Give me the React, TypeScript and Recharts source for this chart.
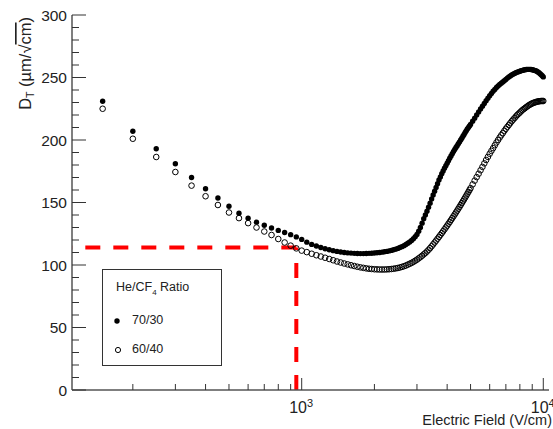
import React from "react"
import { ScatterChart, Scatter, XAxis, YAxis, ReferenceLine, Legend } from "recharts"

// electric field (V/cm)
const E_FIELD = [
  150, 200, 250, 300, 350, 400, 450, 500, 550, 600, 650, 700, 750, 800, 850, 900, 950, 1000,
  1050, 1100, 1150, 1200, 1250, 1300, 1350, 1400, 1450, 1500, 1550, 1600, 1650, 1700, 1750, 1800, 1850, 1900, 1950, 2000,
  2050, 2100, 2150, 2200, 2250, 2300, 2350, 2400, 2450, 2500, 2550, 2600, 2650, 2700, 2750, 2800, 2850, 2900, 2950, 3000,
  3050, 3100, 3150, 3200, 3250, 3300, 3350, 3400, 3450, 3500, 3550, 3600, 3650, 3700, 3750, 3800, 3850, 3900, 3950, 4000,
  4050, 4100, 4150, 4200, 4250, 4300, 4350, 4400, 4450, 4500, 4550, 4600, 4650, 4700, 4750, 4800, 4850, 4900, 4950, 5000,
  5100, 5200, 5300, 5400, 5500, 5600, 5700, 5800, 5900, 6000,
  6100, 6200, 6300, 6400, 6500, 6600, 6700, 6800, 6900, 7000,
  7100, 7200, 7300, 7400, 7500, 7600, 7700, 7800, 7900, 8000,
  8100, 8200, 8300, 8400, 8500, 8600, 8700, 8800, 8900, 9000,
  9100, 9200, 9300, 9400, 9500, 9600, 9700, 9800, 9900, 10000,
]

// transverse diffusion, He/CF4 70/30 (filled)
const DT_70_30 = [
  231, 207, 193, 181, 170, 161, 153.6, 147, 141.5, 137.5, 134.3, 131.8, 129.6, 127.7, 126, 124.3, 122.5, 120.5,
  118.3, 116.5, 115.2, 114, 113, 112.2, 111.5, 110.9, 110.4, 110, 109.7, 109.5, 109.3, 109.2, 109.1, 109.1, 109.2, 109.3, 109.4, 109.6,
  109.8, 110, 110.3, 110.6, 110.9, 111.3, 111.7, 112.2, 112.7, 113.3, 114, 114.7, 115.5, 116.4, 117.4, 118.5, 119.7, 121, 122.6, 124.5,
  127, 130, 133.5, 137, 140, 143, 146.2, 149.5, 152.8, 156, 159, 162, 165, 168, 170.5, 173, 175.3, 177.5, 179.5, 181.5,
  183.5, 185.5, 187.3, 189, 190.8, 192.5, 194, 195.5, 197, 198.5, 200, 201.5, 203, 204.5, 206, 207.5, 208.8, 210, 211.3, 212.5,
  215, 217.5, 220, 222.5, 224.8, 227, 229.3, 231.5, 233.5, 235.5,
  237.3, 239, 240.5, 242, 243.3, 244.5, 245.5, 246.5, 247.5, 248.5,
  249.5, 250.5, 251.3, 252, 252.7, 253.3, 253.8, 254.3, 254.7, 255,
  255.4, 255.7, 256, 256.2, 256.4, 256.5, 256.5, 256.5, 256.4, 256.2,
  256, 255.7, 255.4, 255, 254.4, 253.8, 253.1, 252.3, 251.4, 250.5,
]

// transverse diffusion, He/CF4 60/40 (open)
const DT_60_40 = [
  225, 201, 186.4, 174.4, 163.5, 155, 148, 142, 137.5, 133.5, 130, 126.8, 124, 120.8, 118, 115.5, 113.3, 111.5,
  110.3, 109, 107.8, 106.8, 105.8, 104.8, 103.8, 102.8, 102, 101.2, 100.5, 99.8, 99.2, 98.6, 98.1, 97.7, 97.3, 97, 96.8, 96.6,
  96.5, 96.4, 96.4, 96.4, 96.5, 96.6, 96.8, 97, 97.3, 97.6, 98, 98.5, 99, 99.6, 100.3, 101, 101.7, 102.5, 103.4, 104.3,
  105.3, 106.3, 107.4, 108.5, 109.6, 110.8, 112.1, 113.5, 115, 116.5, 118, 119.5, 121, 122.5, 124, 125.5, 127, 128.5, 130, 131.5,
  133, 134.5, 136, 137.5, 139, 140.5, 142, 143.5, 145, 146.5, 148, 149.5, 151, 152.5, 154, 155.5, 157, 158.5, 160, 161.5,
  164.5, 167.5, 170.3, 173, 175.8, 178.5, 181.3, 184, 186.5, 189,
  191.3, 193.5, 195.8, 198, 200, 202, 203.8, 205.5, 207.3, 209,
  210.5, 212, 213.5, 215, 216.3, 217.5, 218.8, 220, 221, 222,
  223, 224, 224.8, 225.5, 226.3, 227, 227.7, 228.3, 228.8, 229.3,
  229.7, 230, 230.3, 230.6, 230.8, 231, 231.1, 231.2, 231.2, 231.2,
]

const X_TICKS = [200, 300, 400, 500, 600, 700, 800, 900, 1000, 2000, 3000, 4000, 5000, 6000, 7000, 8000, 9000, 10000]
const X_LABELS: Record<number, string> = { 1000: "3", 10000: "4" }
const Y_TICKS = [0, 10, 20, 30, 40, 50, 60, 70, 80, 90, 100, 110, 120, 130, 140, 150, 160, 170, 180, 190, 200, 210, 220, 230, 240, 250, 260, 270, 280, 290, 300]

const CUT_FIELD = 950
const CUT_DT = 114

const X_DOMAIN = [112, 10560]
const FONT = "'Liberation Sans', Arial, Helvetica, sans-serif"

const data7030 = E_FIELD.map((x, i) => ({ x, y: DT_70_30[i] }))
const data6040 = E_FIELD.map((x, i) => ({ x, y: DT_60_40[i] }))

const XTick = (props: any) => {
  const { x, y, payload } = props
  const exp = X_LABELS[payload.value]
  const len = exp ? 12 : 6
  return (
    <g>
      <line x1={x} x2={x} y1={y} y2={y - len} stroke="#333" strokeWidth={1} />
      {exp && (
        <text x={x - 12.5} y={y + 23} fontSize={16} fill="#222" fontFamily={FONT}>
          10
          <tspan dy={-6} fontSize={11}>{exp}</tspan>
        </text>
      )}
    </g>
  )
}

const YTick = (props: any) => {
  const { x, y, payload } = props
  const major = payload.value % 50 === 0
  return (
    <g>
      <line x1={x} x2={x + (major ? 14 : 7)} y1={y} y2={y} stroke="#333" strokeWidth={1} />
      {major && (
        <text x={x - 5} y={y + 5.5} fontSize={15.5} textAnchor="end" fill="#222" fontFamily={FONT}>
          {payload.value}
        </text>
      )}
    </g>
  )
}

const filledDot = (p: any) => <circle cx={p.cx} cy={p.cy} r={2.7} fill="#000" />
const openDot = (p: any) => <circle cx={p.cx} cy={p.cy} r={2.8} fill="none" stroke="#000" strokeWidth={1} />

const LegendBox = () => (
  <div
    style={{
      width: 120,
      height: 97,
      boxSizing: "border-box",
      border: "1px solid #333",
      background: "#fff",
      fontFamily: FONT,
      fontSize: 12.5,
      color: "#222",
      position: "relative",
    }}
  >
    <div style={{ position: "absolute", left: 13, top: 10 }}>
      He/CF<span style={{ fontSize: 8, position: "relative", top: 4 }}>4</span> Ratio
    </div>
    <svg style={{ position: "absolute", left: 0, top: 0 }} width={120} height={97}>
      <circle cx={14} cy={51} r={2.7} fill="#000" />
      <circle cx={15} cy={80} r={2.6} fill="none" stroke="#000" strokeWidth={1} />
    </svg>
    <div style={{ position: "absolute", left: 29, top: 43 }}>70/30</div>
    <div style={{ position: "absolute", left: 29, top: 72 }}>60/40</div>
  </div>
)

export default function App() {
  return (
    <div style={{ position: "absolute", left: 0, top: 0, width: 553, height: 429, background: "#fff" }}>
      <ScatterChart width={553} height={429} margin={{ top: 15, right: 4, bottom: 0, left: 0 }}>
        <XAxis
          xAxisId="b"
          dataKey="x"
          type="number"
          scale="log"
          domain={X_DOMAIN}
          allowDataOverflow
          ticks={X_TICKS}
          interval={0}
          height={39}
          tickSize={0}
          tickMargin={0}
          tickLine={false}
          tick={<XTick />}
          axisLine={{ stroke: "#555", strokeWidth: 1.5 }}
        />
        <XAxis
          xAxisId="t"
          orientation="top"
          type="number"
          scale="log"
          domain={X_DOMAIN}
          allowDataOverflow
          height={0}
          tick={false}
          tickLine={false}
          axisLine={{ stroke: "#444", strokeWidth: 2 }}
        />
        <YAxis
          yAxisId="l"
          dataKey="y"
          type="number"
          domain={[0, 300]}
          ticks={Y_TICKS}
          interval={0}
          width={72}
          tickSize={0}
          tickMargin={0}
          tickLine={false}
          tick={<YTick />}
          axisLine={{ stroke: "#555", strokeWidth: 1.5 }}
        />
        <YAxis
          yAxisId="r"
          orientation="right"
          type="number"
          domain={[0, 300]}
          width={0}
          tick={false}
          tickLine={false}
          axisLine={{ stroke: "#999", strokeWidth: 1 }}
        />
        <Scatter
          name="70/30"
          data={data7030}
          xAxisId="b"
          yAxisId="l"
          shape={filledDot}
          isAnimationActive={false}
        />
        <Scatter
          name="60/40"
          data={data6040}
          xAxisId="b"
          yAxisId="l"
          shape={openDot}
          isAnimationActive={false}
        />
        <ReferenceLine
          xAxisId="b"
          yAxisId="l"
          segment={[{ x: CUT_FIELD, y: CUT_DT }, { x: X_DOMAIN[0], y: CUT_DT }]}
          stroke="#ff0000"
          strokeWidth={4}
          strokeDasharray="15 13"
          ifOverflow="visible"
        />
        <ReferenceLine
          xAxisId="b"
          yAxisId="l"
          segment={[{ x: CUT_FIELD, y: 0 }, { x: CUT_FIELD, y: CUT_DT }]}
          stroke="#ff0000"
          strokeWidth={4}
          strokeDasharray="15 13"
          ifOverflow="visible"
        />
        <Legend
          layout="horizontal"
          verticalAlign="middle"
          align="center"
          content={<LegendBox />}
          wrapperStyle={{ left: 102, top: 269, width: 120, height: 97 }}
        />
        <text x={552} y={425} textAnchor="end" fontSize={14.5} fill="#222" fontFamily={FONT}>
          Electric Field (V/cm)
        </text>
        <text transform="rotate(-90)" x={-17} y={31} textAnchor="end" fontSize={16.5} fill="#222" fontFamily={FONT}>
          D<tspan dy={3} fontSize={10.5}>T</tspan>
          <tspan dy={-3}> (µm/√</tspan>
          <tspan style={{ textDecoration: "overline" }}>cm</tspan>
          <tspan>)</tspan>
        </text>
      </ScatterChart>
    </div>
  )
}
